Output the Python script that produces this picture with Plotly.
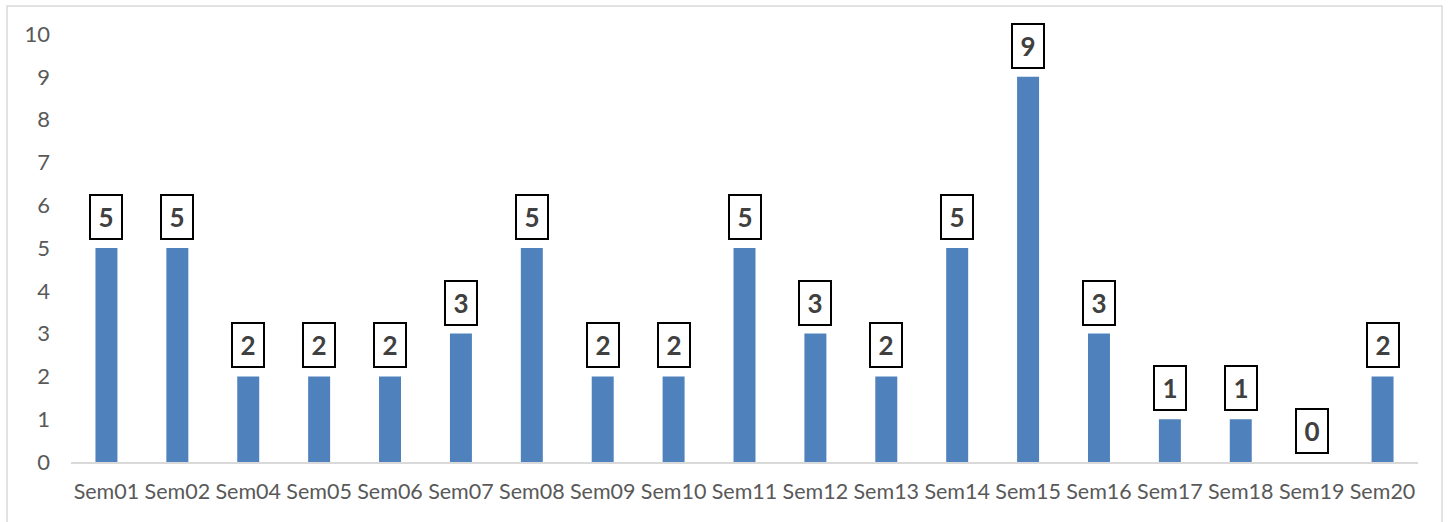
import plotly.graph_objects as go

categories = ["Sem01", "Sem02", "Sem04", "Sem05", "Sem06", "Sem07", "Sem08", "Sem09", "Sem10",
              "Sem11", "Sem12", "Sem13", "Sem14", "Sem15", "Sem16", "Sem17", "Sem18", "Sem19", "Sem20"]
values = [5, 5, 2, 2, 2, 3, 5, 2, 2, 5, 3, 2, 5, 9, 3, 1, 1, 0, 2]
y_ticks = list(range(0, 11))

W, H = 1448, 522
ml, mr, mt, mb = 71, 30, 34, 60
pw, ph = W - ml - mr, H - mt - mb

fig = go.Figure()
fig.add_trace(go.Bar(x=categories, y=values, marker=dict(color="#4F81BD", line=dict(width=0)),
                     hoverinfo="x+y"))

annotations = []
for c, v in zip(categories, values):
    annotations.append(dict(
        x=c, y=v, xref="x", yref="y", text="<b>%d</b>" % v, showarrow=False,
        yanchor="bottom", xanchor="center", yshift=8,
        font=dict(family="Lato", size=26, color="#404040"),
        bordercolor="#000000", borderwidth=2, borderpad=0, bgcolor="#FFFFFF",
        width=30, height=42, align="center", valign="middle"))

# outer chart border
shapes = [dict(type="rect", xref="paper", yref="paper",
               x0=(7 - ml) / pw, x1=(1442 - ml) / pw,
               y0=(H - 540 - mb) / ph, y1=(H - 6 - mb) / ph,
               line=dict(color="#D9D9D9", width=1.5), fillcolor="rgba(0,0,0,0)", layer="below")]

fig.update_layout(
    width=W, height=H, margin=dict(l=ml, r=mr, t=mt, b=mb),
    paper_bgcolor="white", plot_bgcolor="white",
    bargap=0.69, showlegend=False,
    annotations=annotations, shapes=shapes,
    font=dict(family="Lato", color="#595959", size=21.5),
)
fig.update_xaxes(showgrid=False, showline=True, linecolor="#D9D9D9", linewidth=1.5,
                 ticks="", ticklabelstandoff=9, tickfont=dict(size=21.5, color="#595959"))
fig.update_yaxes(range=[0, 10], tickvals=y_ticks, showgrid=False, showline=False, zeroline=False,
                 ticks="", ticklabelstandoff=20, tickfont=dict(size=22, color="#595959"))

fig.write_html("out.html")
